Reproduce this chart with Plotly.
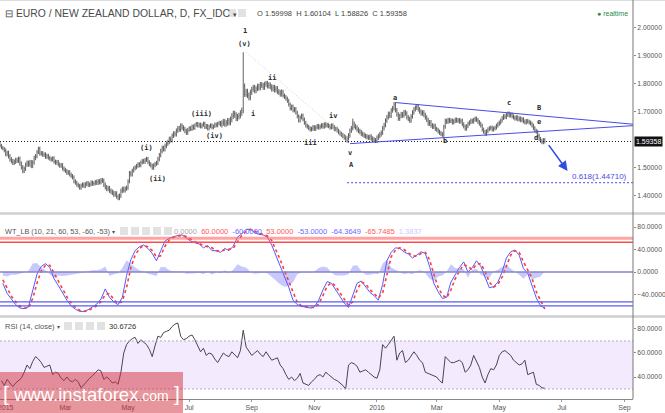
import pandas as pd
import plotly.graph_objects as go
from plotly.subplots import make_subplots

# ---------------- data ----------------
start_date = "2014-12-26"
close = [
    1.579, 1.572, 1.568, 1.561, 1.549, 1.553, 1.541, 1.530, 1.524, 1.518,
    1.522, 1.528, 1.525, 1.532, 1.515, 1.502, 1.489, 1.497, 1.511, 1.518,
    1.512, 1.520, 1.507, 1.519, 1.535, 1.541, 1.556, 1.568, 1.550, 1.553,
    1.546, 1.548, 1.539, 1.543, 1.536, 1.532, 1.529, 1.534, 1.522, 1.518,
    1.521, 1.512, 1.507, 1.510, 1.498, 1.493, 1.489, 1.482, 1.485, 1.476,
    1.471, 1.466, 1.452, 1.447, 1.440, 1.436, 1.429, 1.437, 1.441, 1.435,
    1.442, 1.446, 1.439, 1.441, 1.448, 1.443, 1.445, 1.450, 1.447, 1.452,
    1.449, 1.456, 1.454, 1.440, 1.431, 1.425, 1.428, 1.419, 1.415, 1.411,
    1.405, 1.409, 1.398, 1.393, 1.401, 1.418, 1.425, 1.420, 1.426, 1.429,
    1.452, 1.482, 1.476, 1.490, 1.498, 1.502, 1.507, 1.513, 1.509, 1.519,
    1.525, 1.521, 1.528, 1.532, 1.520, 1.513, 1.508, 1.500, 1.509, 1.514,
    1.518, 1.531, 1.545, 1.560, 1.571, 1.566, 1.578, 1.586, 1.592, 1.603,
    1.598, 1.614, 1.622, 1.619, 1.632, 1.641, 1.636, 1.650, 1.643, 1.638,
    1.631, 1.625, 1.634, 1.642, 1.637, 1.648, 1.641, 1.652, 1.657, 1.649,
    1.655, 1.646, 1.652, 1.658, 1.644, 1.650, 1.639, 1.647, 1.652, 1.643,
    1.648, 1.655, 1.650, 1.657, 1.661, 1.653, 1.659, 1.664, 1.656, 1.660,
    1.667, 1.661, 1.672, 1.684, 1.693, 1.688, 1.676, 1.682, 1.686, 1.695,
    1.704, 1.790, 1.762, 1.771, 1.758, 1.750, 1.768, 1.779, 1.786, 1.774,
    1.781, 1.790, 1.784, 1.796, 1.793, 1.786, 1.797, 1.800, 1.791, 1.795,
    1.788, 1.780, 1.786, 1.777, 1.782, 1.771, 1.768, 1.762, 1.770, 1.757,
    1.752, 1.746, 1.738, 1.725, 1.711, 1.718, 1.704, 1.709, 1.696, 1.683,
    1.668, 1.679, 1.686, 1.672, 1.660, 1.650, 1.646, 1.641, 1.636, 1.639,
    1.645, 1.638, 1.644, 1.649, 1.643, 1.647, 1.652, 1.646, 1.655, 1.650,
    1.653, 1.648, 1.643, 1.651, 1.645, 1.637, 1.639, 1.632, 1.626, 1.621,
    1.617, 1.612, 1.608, 1.604, 1.597, 1.615, 1.632, 1.641, 1.657, 1.648,
    1.643, 1.636, 1.631, 1.627, 1.621, 1.618, 1.614, 1.612, 1.609, 1.607,
    1.611, 1.604, 1.601, 1.598, 1.596, 1.607, 1.613, 1.619, 1.625, 1.641,
    1.652, 1.668, 1.680, 1.692, 1.685, 1.704, 1.712, 1.726, 1.705, 1.690,
    1.675, 1.684, 1.691, 1.686, 1.698, 1.693, 1.680, 1.674, 1.668, 1.683,
    1.697, 1.708, 1.714, 1.719, 1.708, 1.700, 1.693, 1.697, 1.688, 1.679,
    1.670, 1.657, 1.662, 1.651, 1.646, 1.649, 1.639, 1.635, 1.629, 1.624,
    1.620, 1.617, 1.646, 1.668, 1.663, 1.671, 1.666, 1.669, 1.661, 1.666,
    1.672, 1.667, 1.670, 1.664, 1.668, 1.655, 1.647, 1.639, 1.648, 1.657,
    1.662, 1.668, 1.664, 1.671, 1.675, 1.670, 1.663, 1.657, 1.650, 1.636,
    1.628, 1.621, 1.630, 1.637, 1.641, 1.643, 1.636, 1.640, 1.643, 1.650,
    1.656, 1.661, 1.668, 1.677, 1.684, 1.680, 1.688, 1.693, 1.686, 1.690,
    1.683, 1.679, 1.675, 1.680, 1.672, 1.676, 1.669, 1.673, 1.665, 1.661,
    1.667, 1.664, 1.661, 1.657, 1.650, 1.641, 1.632, 1.628, 1.614, 1.603,
    1.596, 1.591, 1.599, 1.59358,
]
# typical wick length beyond the open/close body, per month
wick = {"2014-12": 0.006, "2015-01": 0.008, "2015-02": 0.007, "2015-03": 0.007,
        "2015-04": 0.008, "2015-05": 0.007, "2015-06": 0.008, "2015-07": 0.006,
        "2015-08": 0.010, "2015-09": 0.009, "2015-10": 0.007, "2015-11": 0.007,
        "2015-12": 0.008, "2016-01": 0.008, "2016-02": 0.008, "2016-03": 0.007,
        "2016-04": 0.007, "2016-05": 0.007, "2016-06": 0.007}
spike_high = {"2015-08-24": 1.911, "2015-12-09": 1.675}

# WT_LB, one reading every 3rd session
wt1 = [-20, -38, -48, -58, -64, -65, -62, -32, -4, 10,
       15, 8, -12, -24, -38, -50, -60, -66, -70, -70,
       -67, -62, -57, -48, -30, -45, -53, -58, -45, -6,
       22, 38, 45, 48, 42, 33, 20, 38, 55, 60,
       63, 65, 66, 60, 55, 52, 50, 43, 47, 38,
       38, 35, 42, 38, 46, 62, 68, 76, 76, 70,
       67, 66, 62, 48, 30, 12, -8, -27, -50, -58,
       -61, -63, -64, -62, -50, -32, -17, -20, -31, -43,
       -55, -63, -42, -20, -16, -26, -36, -42, -50, -22,
       20, 35, 43, 42, 36, 32, 25, 30, 36, 33,
       10, -20, -35, -47, -45, -18, -5, 8, 18, 0,
       8, 20, 10, -8, -28, -26, -18, 0, 25, 36,
       39, 30, 6, -2, -24, -46, -60, -64.36]
wt2 = [-14, -30, -43, -53, -61, -64, -64, -47, -20, 2,
       12, 12, -2, -18, -31, -44, -55, -63, -68, -70,
       -69, -65, -60, -53, -40, -38, -49, -56, -52, -27,
       8, 30, 42, 47, 45, 38, 27, 29, 46, 57,
       62, 64, 65, 63, 58, 54, 51, 47, 45, 43,
       38, 37, 39, 40, 42, 54, 65, 72, 76, 73,
       69, 67, 64, 56, 40, 22, 2, -17, -38, -54,
       -60, -62, -63, -63, -57, -42, -25, -19, -25, -37,
       -49, -59, -53, -32, -18, -21, -31, -39, -46, -37,
       -2, 27, 39, 43, 40, 34, 29, 28, 33, 35,
       22, -4, -27, -41, -46, -32, -12, 2, 13, 10,
       4, 14, 15, 1, -18, -27, -22, -9, 12, 30,
       38, 35, 18, 2, -11, -35, -52, -65.75]
wt_hist = [-6, -8, -5, -5, -3, -1, 2, 15, 16, 8,
           3, -4, -10, -6, -7, -6, -5, -3, -2, 0,
           2, 3, 3, 5, 10, -7, -4, -2, 7, 21,
           14, 8, 3, 1, -3, -5, -7, 9, 9, 3,
           1, 1, 1, -3, -3, -2, -1, -4, 2, -5,
           0, -2, 3, -2, 4, 14, 10, 8, 0, -3,
           -2, -1, -2, -8, -15, -22, -26, -25, -18, -4,
           -1, -1, -1, 1, 7, 10, 8, -1, -6, -6,
           -6, -4, 11, 12, 2, -5, -5, -3, -4, 15,
           22, 8, 4, -1, -4, -2, -4, 2, 3, -2,
           -12, -16, -8, -6, 1, 14, 7, 6, 5, -10,
           4, 6, -5, -9, -10, 1, 4, 9, 13, 6,
           1, -5, -12, -4, -13, -11, -8, 1.38]

# RSI(14), one reading every 2nd session
rsi = [37, 33, 38, 35, 32, 35, 37, 39, 44, 50,
       47, 53, 57, 55, 52, 48, 49, 50, 42, 44,
       43, 39, 37, 40, 37, 36, 38, 36, 31, 34,
       37, 39, 41, 44, 46, 45, 38, 40, 38, 35,
       36, 34, 44, 60, 67, 70, 72, 73, 68, 71,
       69, 67, 63, 57, 66, 74, 73, 77, 78, 79,
       82, 84, 85, 74, 71, 72, 74, 75, 71, 66,
       61, 64, 58, 60, 59, 55, 52, 56, 60, 58,
       57, 61, 58, 56, 62, 79, 65, 61, 58, 60,
       62, 59, 57, 61, 58, 54, 55, 56, 50, 47,
       42, 38, 40, 37, 39, 43, 35, 34, 33, 36,
       38, 41, 42, 40, 44, 42, 40, 38, 37, 35,
       33, 30, 50, 52, 51, 49, 44, 45, 46, 44,
       42, 40, 39, 46, 67, 64, 67, 70, 74, 54,
       60, 62, 52, 54, 58, 61, 58, 54, 52, 44,
       43, 42, 41, 40, 37, 35, 57, 54, 52, 52,
       53, 54, 52, 44, 46, 50, 58, 53, 48, 40,
       35, 42, 47, 46, 50, 58, 61, 62, 60, 58,
       54, 52, 50, 51, 54, 42, 43, 44, 34, 33,
       31, 30.67]

x_tick_months = ["2015-01", "2015-03", "2015-05", "2015-07", "2015-09", "2015-11",
                 "2016-01", "2016-03", "2016-05", "2016-07", "2016-09"]
x_tick_text = ["2015", "Mar", "May", "Jul", "Sep", "Nov", "2016", "Mar", "May", "Jul", "Sep"]
price_ticks = [1.4, 1.5, 1.7, 1.8, 1.9, 2.0]
wt_ticks = [-40, 0, 40, 80]
rsi_ticks = [20, 40, 60, 80]
last_close = 1.59358
fib_level = 1.44710

# ---------------- build ----------------
dates = pd.bdate_range(start_date, periods=len(close))
opens = [close[0] + 0.006] + close[:-1]
highs, lows = [], []
for d, o, c in zip(dates, opens, close):
    w = wick[d.strftime("%Y-%m")]
    highs.append(max(o, c) + w)
    lows.append(min(o, c) - w)
    k = d.strftime("%Y-%m-%d")
    if k in spike_high:
        highs[-1] = spike_high[k]

wt_dates = dates[2::3]
rsi_dates = dates[1::2]


def bd(n):
    return (pd.Timestamp(start_date) + pd.offsets.BDay(n)).strftime("%Y-%m-%d")


W, H = 665, 413
ML, MR, MT, MB = 0, 32, 0, 14
PW, PH = W - ML - MR, H - MT - MB


def px(x):
    return (x - ML) / PW


def py(y):
    return (PH - (y - MT)) / PH


fig = make_subplots(rows=3, cols=1, shared_xaxes=True, vertical_spacing=0.01)

fig.add_trace(go.Ohlc(x=dates, open=opens, high=highs, low=lows, close=close,
                      increasing_line_color="#3a3a3a", decreasing_line_color="#3a3a3a",
                      line_width=0.8, tickwidth=0.2, showlegend=False, hoverinfo="skip"), row=1, col=1)

fig.add_trace(go.Scatter(x=wt_dates, y=wt_hist, mode="lines", fill="tozeroy",
                         fillcolor="rgba(110,110,245,0.38)", line=dict(width=0),
                         showlegend=False, hoverinfo="skip"), row=2, col=1)
fig.add_trace(go.Scatter(x=wt_dates, y=wt1, mode="lines", line=dict(color="#5858ff", width=1),
                         showlegend=False, hoverinfo="skip"), row=2, col=1)
fig.add_trace(go.Scatter(x=wt_dates, y=wt2, mode="lines",
                         line=dict(color="#ff3b3b", width=1.6, dash="dot"),
                         showlegend=False, hoverinfo="skip"), row=2, col=1)

fig.add_trace(go.Scatter(x=rsi_dates, y=rsi, mode="lines", line=dict(color="#4a4552", width=1),
                         showlegend=False, hoverinfo="skip"), row=3, col=1)

shapes = []
# price panel lines
shapes.append(dict(type="line", xref="paper", yref="y", x0=0, x1=1, y0=last_close, y1=last_close,
                   line=dict(color="#222", width=1, dash="1px,2px")))
shapes.append(dict(type="line", xref="x", yref="y", x0=bd(244), x1=bd(445), y0=fib_level, y1=fib_level,
                   line=dict(color="#4a4ae0", width=1, dash="2px,2px")))
shapes.append(dict(type="line", xref="x", yref="y", x0=bd(278), x1=bd(445), y0=1.732, y1=1.655,
                   line=dict(color="#4a4ae8", width=1)))
shapes.append(dict(type="line", xref="x", yref="y", x0=bd(246), x1=bd(445), y0=1.586, y1=1.650,
                   line=dict(color="#4a4ae8", width=1)))
shapes.append(dict(type="line", xref="x", yref="y", x0=bd(173), x1=bd(246), y0=1.911, y1=1.593,
                   line=dict(color="#d0d0d0", width=1, dash="1px,2px")))
# WT levels
shapes.append(dict(type="line", xref="paper", yref="y2", x0=0, x1=1, y0=60, y1=60,
                   line=dict(color="rgba(255,90,90,0.55)", width=3)))
shapes.append(dict(type="line", xref="paper", yref="y2", x0=0, x1=1, y0=53, y1=53,
                   line=dict(color="#ff4a4a", width=1.6)))
shapes.append(dict(type="line", xref="paper", yref="y2", x0=0, x1=1, y0=0, y1=0,
                   line=dict(color="#8585c8", width=1.5)))
shapes.append(dict(type="line", xref="paper", yref="y2", x0=0, x1=1, y0=-53, y1=-53,
                   line=dict(color="#5a5af0", width=1.2)))
shapes.append(dict(type="line", xref="paper", yref="y2", x0=0, x1=1, y0=-60, y1=-60,
                   line=dict(color="#5a5af0", width=1.2)))
# RSI band
shapes.append(dict(type="rect", xref="paper", yref="y3", x0=0, x1=1, y0=30, y1=70,
                   fillcolor="rgba(160,90,240,0.12)", line=dict(width=0), layer="below"))
for lv in (30, 70):
    shapes.append(dict(type="line", xref="paper", yref="y3", x0=0, x1=1, y0=lv, y1=lv,
                       line=dict(color="#b8a8c8", width=1, dash="2px,2px")))
# frame: separators, right axis line, top border
for ysep in (213.5, 316.5):
    shapes.append(dict(type="line", xref="paper", yref="paper", x0=0, x1=px(W), y0=py(ysep), y1=py(ysep),
                       line=dict(color="#cfcfcf", width=2.5)))
shapes.append(dict(type="line", xref="paper", yref="paper", x0=0, x1=px(W), y0=py(0.5), y1=py(0.5),
                   line=dict(color="#dddddd", width=1)))
shapes.append(dict(type="line", xref="paper", yref="paper", x0=1, x1=1, y0=0, y1=py(0),
                   line=dict(color="#777", width=1)))
# header icons
for x0 in (228, 238):
    shapes.append(dict(type="rect", xref="paper", yref="paper", x0=px(x0), x1=px(x0 + 8),
                       y0=py(17), y1=py(9), fillcolor="#e2e2e2", line=dict(width=0)))
for x0 in (120, 131, 142, 153, 164):
    shapes.append(dict(type="rect", xref="paper", yref="paper", x0=px(x0), x1=px(x0 + 8),
                       y0=py(235), y1=py(227), fillcolor="#e2e2e2", line=dict(width=0)))
for x0 in (64, 75, 86, 97):
    shapes.append(dict(type="rect", xref="paper", yref="paper", x0=px(x0), x1=px(x0 + 8),
                       y0=py(330), y1=py(322), fillcolor="#e2e2e2", line=dict(width=0)))
# watermark box
shapes.append(dict(type="rect", xref="paper", yref="paper", x0=px(0), x1=px(183), y0=py(413), y1=py(372),
                   fillcolor="rgba(210,45,60,0.5)", line=dict(width=0)))

ann = []
wave_font = dict(family="DejaVu Sans Mono", size=7, color="#2a2a2a")
wave_labels = [("1", 172, 1.986), ("(v)", 172, 1.939), ("i", 178, 1.693), ("ii", 191, 1.821),
               ("iii", 218, 1.589), ("iv", 234, 1.686), ("v", 246, 1.554), ("A", 247, 1.511),
               ("a", 278, 1.750), ("b", 313, 1.596), ("c", 358, 1.729), ("B", 379, 1.714),
               ("e", 379, 1.664), ("d", 377, 1.607), ("(i)", 103, 1.571), ("(ii)", 111, 1.461),
               ("(iii)", 142, 1.693), ("(iv)", 151, 1.614)]
for t, n, p in wave_labels:
    ann.append(dict(x=bd(n), y=p, xref="x", yref="y", text="<b>" + t + "</b>", showarrow=False,
                    font=wave_font))
ann.append(dict(x=bd(401), y=fib_level, xref="x", yref="y", text="0.618(1.44710)", showarrow=False,
                xanchor="left", yanchor="bottom", font=dict(size=8, color="#4a4ae8")))
ann.append(dict(x=bd(399), y=1.489, xref="x", yref="y", ax=bd(385), ay=1.586, axref="x", ayref="y",
                text="", showarrow=True, arrowhead=2, arrowsize=1.2, arrowwidth=1.6, arrowcolor="#2f4fe0"))
ann.append(dict(x=1, y=last_close, xref="paper", yref="y", text="1.59358", showarrow=False,
                xanchor="left", xshift=1, bgcolor="#111", borderpad=1, font=dict(size=7, color="white")))

ann.append(dict(x=px(3), y=py(13), xref="paper", yref="paper", xanchor="left", yanchor="middle",
                text="⊟ EURO / NEW ZEALAND DOLLAR, D, FX_IDC <span style='font-size:7px'>▾</span>",
                showarrow=False, font=dict(size=10.4, color="#4a4a4a")))
ann.append(dict(x=px(255), y=py(13), xref="paper", yref="paper", xanchor="left", yanchor="middle",
                text="O 1.59998  H 1.60104  L 1.58826  C 1.59358", showarrow=False,
                font=dict(size=7.5, color="#444")))
ann.append(dict(x=px(630), y=py(13), xref="paper", yref="paper", xanchor="right", yanchor="middle",
                text="● realtime", showarrow=False, font=dict(size=7, color="#2e8b4a")))

ann.append(dict(x=px(3), y=py(231), xref="paper", yref="paper", xanchor="left", yanchor="middle",
                text="WT_LB (10, 21, 60, 53, -60, -53) <span style='font-size:6px'>▾</span>",
                showarrow=False, font=dict(size=7.3, color="#555")))
ann.append(dict(x=px(172), y=py(231), xref="paper", yref="paper", xanchor="left", yanchor="middle",
                text="<span style='color:#aaa'>0.0000</span>  <span style='color:#ff5a5a'>60.0000</span>  "
                     "<span style='color:#6a6aff'>-60.0000</span>  <span style='color:#ff5a5a'>53.0000</span>  "
                     "<span style='color:#6a6aff'>-53.0000</span>  <span style='color:#6a6aff'>-64.3649</span>  "
                     "<span style='color:#ff5a5a'>-65.7485</span>  <span style='color:#c8c8ff'>1.3837</span>",
                showarrow=False, font=dict(size=7.5, color="#555")))

ann.append(dict(x=px(3), y=py(326), xref="paper", yref="paper", xanchor="left", yanchor="middle",
                text="RSI (14, close) <span style='font-size:6px'>▾</span>",
                showarrow=False, font=dict(size=7.5, color="#555")))
ann.append(dict(x=px(107), y=py(326), xref="paper", yref="paper", xanchor="left", yanchor="middle",
                text="30.6726", showarrow=False, font=dict(size=7.5, color="#333")))

ann.append(dict(x=px(91), y=py(393), xref="paper", yref="paper", xanchor="center", yanchor="middle",
                text="<span style='font-size:21px'>[</span> www.instaforex<span style='font-size:14px'>.com</span> "
                     "<span style='font-size:21px'>]</span>",
                showarrow=False, font=dict(family="Liberation Sans", size=18.5, color="white")))

fig.update_layout(
    width=W, height=H, margin=dict(l=ML, r=MR, t=MT, b=MB, autoexpand=False),
    paper_bgcolor="white", plot_bgcolor="white", showlegend=False,
    font=dict(family="Liberation Sans", color="#555"),
    shapes=shapes, annotations=ann,
)

tick_vals = [(pd.Timestamp(m + "-01") + pd.offsets.BDay(0)).strftime("%Y-%m-%d") for m in x_tick_months]
fig.update_xaxes(range=[start_date, bd(445)], rangebreaks=[dict(bounds=["sat", "mon"])],
                 showgrid=False, zeroline=False, rangeslider_visible=False, showticklabels=False,
                 automargin=False)
fig.update_xaxes(row=3, col=1, showticklabels=True, tickmode="array", tickvals=tick_vals,
                 ticktext=x_tick_text, ticks="outside", ticklen=2, tickcolor="#999", showline=True,
                 linecolor="#888", tickfont=dict(size=7, color="#555"), ticklabeloverflow="allow")

yax = dict(side="right", showgrid=False, zeroline=False, ticks="outside", ticklen=2, tickcolor="#888",
           tickfont=dict(size=6.8, color="#555"), showline=False, automargin=False,
           ticklabeloverflow="allow")
fig.update_yaxes(row=1, col=1, range=[1.343, 2.093], tickvals=price_ticks, tickformat=".5f",
                 domain=[py(212), py(1)], **yax)
fig.update_yaxes(row=2, col=1, range=[-76.4, 99.6], tickvals=wt_ticks, tickformat=".4f",
                 domain=[py(315), py(216)], **yax)
fig.update_yaxes(row=3, col=1, range=[21.7, 88.3], tickvals=rsi_ticks, tickformat=".4f",
                 domain=[py(399), py(319)], **yax)

fig.write_html("out.html", config={"displayModeBar": False, "staticPlot": True},
               post_script="document.body.style.margin='0';document.body.style.overflow='hidden';")
